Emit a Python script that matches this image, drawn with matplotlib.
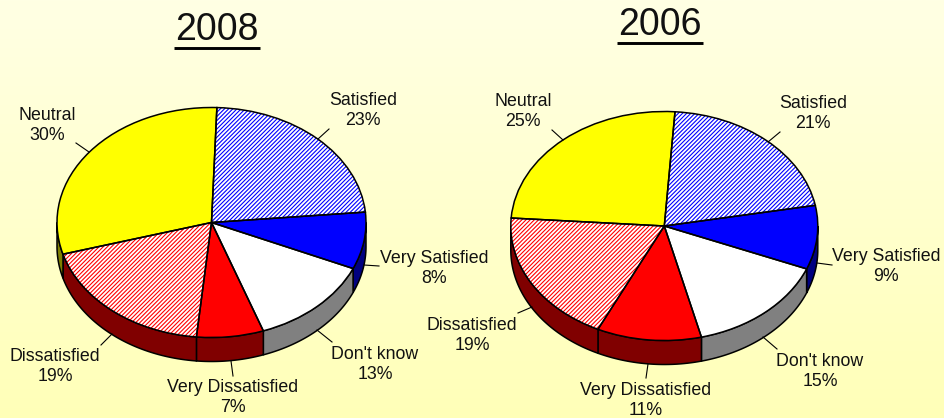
import numpy as np
import matplotlib
matplotlib.use("Agg")
import matplotlib.pyplot as plt
from matplotlib.patches import Polygon

plt.rcParams['font.family'] = ['Liberation Sans', 'DejaVu Sans']
plt.rcParams['hatch.linewidth'] = 0.8

categories = ["Satisfied", "Very Satisfied", "Don't know", "Very Dissatisfied", "Dissatisfied", "Neutral"]
values_2008 = [23, 8, 13, 7, 19, 30]
values_2006 = [21, 9, 15, 11, 19, 25]

top_colors = ["white", "#0000ff", "white", "#ff0000", "white", "#ffff00"]
hatch_colors = ["#0000ff", None, None, None, "#ff0000", None]
side_colors = ["#000080", "#000080", "#808080", "#800000", "#800000", "#808000"]

W, H = 945, 418
DEPTH = 24

fig = plt.figure(figsize=(W / 100, H / 100), dpi=100)

# background gradient
bg = fig.add_axes([0, 0, 1, 1], zorder=0)
bg.imshow(np.linspace(0, 1, 256).reshape(-1, 1), aspect="auto", extent=(0, W, H, 0),
          cmap=matplotlib.colors.LinearSegmentedColormap.from_list("bg", ["#ffffe4", "#ffffb8"]))
bg.axis("off")

# overlay in pixel coordinates for labels and leader lines
over = fig.add_axes([0, 0, 1, 1], zorder=5)
over.set_xlim(0, W)
over.set_ylim(H, 0)
over.axis("off")


def draw_pie(values, cx, cy, rx, ry, start, label_pos, leaders):
    ax = fig.add_axes([(cx - rx) / W, 1 - (cy + ry) / H, 2 * rx / W, 2 * ry / H], zorder=2)
    angles = 90 - start - np.cumsum([0] + values) * 3.6
    d = DEPTH / ry

    # side wall, only the part of each slice on the lower half
    for i in range(len(values)):
        a0 = max(angles[i + 1], -180)
        a1 = min(angles[i], 0)
        if a0 >= a1:
            continue
        t = np.radians(np.linspace(a0, a1, 80))
        xs = np.r_[np.cos(t), np.cos(t[::-1])]
        ys = np.r_[np.sin(t), np.sin(t[::-1]) - d]
        ax.add_patch(Polygon(np.c_[xs, ys], closed=True, fc=side_colors[i], ec="black",
                             lw=1.1, clip_on=False, zorder=1))

    wedges, _ = ax.pie(values, colors=top_colors, startangle=90 - start, counterclock=False,
                       radius=1, wedgeprops=dict(linewidth=0))
    for w, hc in zip(wedges, hatch_colors):
        w.set_clip_on(False)
        w.set_zorder(2)
        if hc:
            w.set_edgecolor(hc)
            w.set_hatch("/" * 8)
    outline, _ = ax.pie(values, colors=["none"] * 6, startangle=90 - start, counterclock=False,
                        radius=1, wedgeprops=dict(linewidth=1.1, edgecolor="black"))
    for w in outline:
        w.set_clip_on(False)
        w.set_zorder(3)
    ax.set_aspect("auto")
    ax.set_xlim(-1, 1)
    ax.set_ylim(-1, 1)

    for name, v, (lx, ly), seg in zip(categories, values, label_pos, leaders):
        over.text(lx, ly, f"{name}\n{v}%", ha="center", va="center", fontsize=12.8,
                  linespacing=1.27, color="#111111")
        over.plot([seg[0], seg[2]], [seg[1], seg[3]], color="black", lw=0.8)


draw_pie(values_2008, 211.5, 222.5, 154.5, 115, 2,
         [(363, 110.5), (434, 268.5), (375, 364.5), (233, 397.5), (55, 366.5), (47, 125.5)],
         [(329, 129, 318, 139), (379, 266, 364, 265), (332, 342, 317, 330),
          (233, 376, 231, 361), (101, 345, 112, 334), (76, 143, 89, 152)])

draw_pie(values_2006, 664.3, 226, 153.5, 114.5, 4,
         [(813, 113.5), (886, 266.5), (820, 371.5), (646, 400.5), (472, 335.5), (523, 111.5)],
         [(780, 132, 768, 142), (832, 265, 817, 263), (777, 349, 763, 337),
          (646, 378, 648, 364), (518, 313, 532, 307), (552, 130, 563, 140)])

# titles
over.text(217, 30, "2008", ha="center", va="center", fontsize=27, color="#111111")
over.plot([174, 260], [47.5, 47.5], color="black", lw=2.1, solid_capstyle="butt")
over.text(660, 25, "2006", ha="center", va="center", fontsize=27, color="#111111")
over.plot([617, 703], [42.5, 42.5], color="black", lw=2.1, solid_capstyle="butt")
over.set_xlim(0, W)
over.set_ylim(H, 0)

fig.savefig("out.png", dpi=100)
